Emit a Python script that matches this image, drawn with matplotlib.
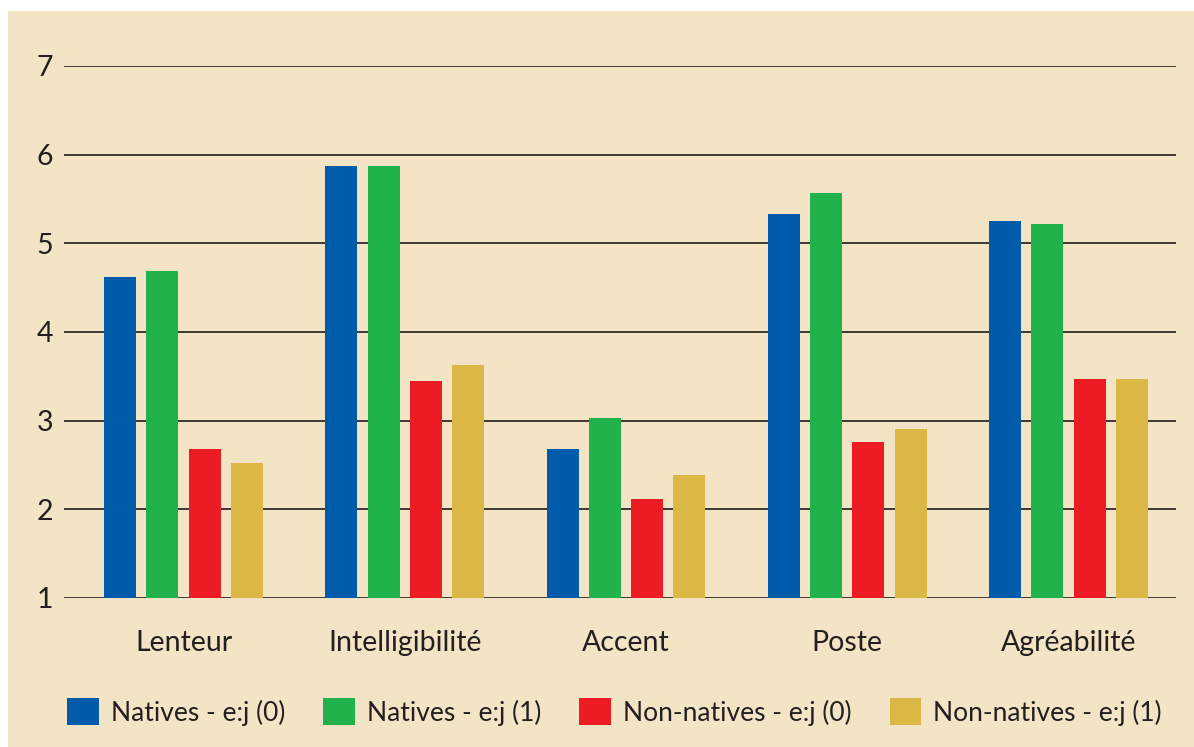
import matplotlib
matplotlib.use('Agg')
import matplotlib.pyplot as plt
import matplotlib.patches as patches
import numpy as np

categories = ['Lenteur', 'Intelligibilité', 'Accent', 'Poste', 'Agréabilité']
series_names = ['Natives - e:j (0)', 'Natives - e:j (1)',
                'Non-natives - e:j (0)', 'Non-natives - e:j (1)']
natives_0 = [4.62, 5.87, 2.68, 5.33, 5.25]
natives_1 = [4.69, 5.87, 3.03, 5.57, 5.22]
non_natives_0 = [2.68, 3.45, 2.12, 2.76, 3.47]
non_natives_1 = [2.52, 3.63, 2.39, 2.91, 3.47]
yticks = [1, 2, 3, 4, 5, 6, 7]

COLORS = ['#005BAA', '#22B24C', '#ED1C24', '#DBB845']
BG = '#F2E4C4'
TXT = '#231F20'

plt.rcParams['font.family'] = ['Lato', 'DejaVu Sans']

W, H = 1194, 747
fig = plt.figure(figsize=(W / 100, H / 100), dpi=100, facecolor='white')
# beige panel, white strip on the left and top
fig.add_artist(patches.Rectangle((8 / W, 0), 1 - 8 / W, 1 - 11 / H,
                                 transform=fig.transFigure, facecolor=BG,
                                 edgecolor='none', zorder=-10))

ax = fig.add_axes([64 / W, 1 - 598 / H, (1176 - 64) / W, (598 - 66) / H])
ax.set_facecolor('none')

x = np.arange(len(categories))
step = 0.191
width = 0.145
all_series = [natives_0, natives_1, non_natives_0, non_natives_1]
bars = []
for i, vals in enumerate(all_series):
    b = ax.bar(x + (i - 1.5) * step, np.array(vals) - 1, width, bottom=1,
               color=COLORS[i], label=series_names[i], zorder=3)
    bars.append(b)

for t in yticks:
    ax.axhline(t, color='#3d3832', linewidth=1.4, zorder=1)

ax.set_xlim(-0.54, 4.486)
ax.set_ylim(1, 7)
ax.set_yticks(yticks)
ax.set_xticks(x)
ax.set_xticklabels(categories)
for s in ax.spines.values():
    s.set_visible(False)
ax.tick_params(axis='both', length=0, labelsize=20.5, colors=TXT)
ax.tick_params(axis='y', pad=8)
ax.tick_params(axis='x', pad=23)

leg = fig.legend(handles=bars, loc='center left', bbox_to_anchor=(67 / W, 1 - 712 / H),
                 ncol=4, frameon=False, fontsize=19, handlelength=1.2,
                 handleheight=1.2, handletextpad=0.45, columnspacing=1.45,
                 borderaxespad=0, borderpad=0)
for t in leg.get_texts():
    t.set_color(TXT)

fig.savefig('out.png', dpi=100, facecolor='white')
